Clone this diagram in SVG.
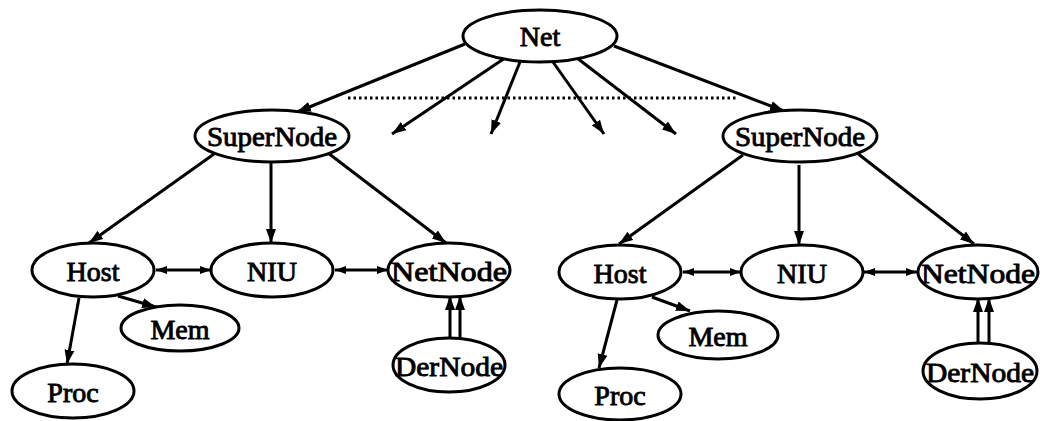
<svg xmlns="http://www.w3.org/2000/svg" width="1040" height="421" viewBox="0 0 1040 421">
<style>
.n ellipse{fill:#fff;stroke:#000;stroke-width:3}
.n text{font-family:'Liberation Serif','DejaVu Serif','Times New Roman',serif;font-size:28px;font-weight:normal;text-anchor:middle;fill:#000;stroke:#000;stroke-width:0.9}
.e line{stroke:#000;stroke-width:3;fill:none}
.dot{stroke:#000;stroke-width:2.5;stroke-dasharray:2.5 3;fill:none}
</style>
<defs>
<marker id="ah" markerUnits="userSpaceOnUse" markerWidth="15" markerHeight="11" refX="14" refY="5.5" orient="auto">
<path d="M0,0.5 L14,5.5 L0,10.5 z" fill="#000"/>
</marker>
<marker id="as" markerUnits="userSpaceOnUse" markerWidth="12" markerHeight="9" refX="11" refY="4.5" orient="auto-start-reverse">
<path d="M0,0.5 L11,4.5 L0,8.5 z" fill="#000"/>
</marker>
</defs>
<g class="e" id="connectors">
<line class="dot" x1="348" y1="98" x2="738" y2="98"/>
<line x1="465" y1="44" x2="297" y2="112" marker-end="url(#ah)"/>
<line x1="505" y1="58" x2="392" y2="134" marker-end="url(#ah)"/>
<line x1="520" y1="62" x2="491" y2="134" marker-end="url(#ah)"/>
<line x1="553" y1="62" x2="604" y2="134" marker-end="url(#ah)"/>
<line x1="577" y1="58" x2="676" y2="134" marker-end="url(#ah)"/>
<line x1="614" y1="46" x2="784" y2="111" marker-end="url(#ah)"/>
<line x1="214" y1="154" x2="89" y2="243" marker-end="url(#ah)"/>
<line x1="271" y1="163" x2="271" y2="243" marker-end="url(#ah)"/>
<line x1="328" y1="153" x2="446" y2="243" marker-end="url(#ah)"/>
<line x1="156" y1="270" x2="211" y2="270" marker-start="url(#as)" marker-end="url(#as)"/>
<line x1="335" y1="270" x2="388" y2="270" marker-start="url(#as)" marker-end="url(#as)"/>
<line x1="118" y1="296" x2="156" y2="307" marker-end="url(#ah)"/>
<line x1="79" y1="298" x2="67" y2="364" marker-end="url(#ah)"/>
<line x1="450" y1="338" x2="450" y2="296" marker-end="url(#ah)"/>
<line x1="460" y1="338" x2="460" y2="296" marker-end="url(#ah)"/>
<line x1="743" y1="155" x2="619" y2="244" marker-end="url(#ah)"/>
<line x1="799" y1="165" x2="799" y2="245" marker-end="url(#ah)"/>
<line x1="857" y1="153" x2="974" y2="244" marker-end="url(#ah)"/>
<line x1="683" y1="272" x2="741" y2="272" marker-start="url(#as)" marker-end="url(#as)"/>
<line x1="864" y1="272" x2="917" y2="272" marker-start="url(#as)" marker-end="url(#as)"/>
<line x1="652" y1="297" x2="690" y2="311" marker-end="url(#ah)"/>
<line x1="617" y1="300" x2="599" y2="368" marker-end="url(#ah)"/>
<line x1="978" y1="343" x2="978" y2="298" marker-end="url(#ah)"/>
<line x1="989" y1="343" x2="989" y2="298" marker-end="url(#ah)"/>
</g>
<g class="n" id="net"><ellipse cx="540" cy="36" rx="77" ry="26"/><text x="540" y="46">Net</text></g>
<g class="n" id="supernode1"><ellipse cx="272" cy="136" rx="77" ry="26"/><text x="272" y="146" textLength="130" lengthAdjust="spacingAndGlyphs">SuperNode</text></g>
<g class="n" id="host1"><ellipse cx="93" cy="270" rx="61" ry="27"/><text x="93" y="281">Host</text></g>
<g class="n" id="niu1"><ellipse cx="272" cy="270" rx="61" ry="27"/><text x="272" y="281">NIU</text></g>
<g class="n" id="netnode1"><ellipse cx="449" cy="270" rx="61" ry="27"/><text x="449" y="281" textLength="116" lengthAdjust="spacingAndGlyphs">NetNode</text></g>
<g class="n" id="mem1"><ellipse cx="180" cy="328" rx="59" ry="23"/><text x="180" y="339">Mem</text></g>
<g class="n" id="proc1"><ellipse cx="73" cy="391" rx="61" ry="27"/><text x="73" y="402">Proc</text></g>
<g class="n" id="dernode1"><ellipse cx="449" cy="365" rx="56" ry="27"/><text x="449" y="376" textLength="108" lengthAdjust="spacingAndGlyphs">DerNode</text></g>
<g class="n" id="supernode2"><ellipse cx="800" cy="136" rx="77" ry="26"/><text x="800" y="146" textLength="130" lengthAdjust="spacingAndGlyphs">SuperNode</text></g>
<g class="n" id="host2"><ellipse cx="620" cy="272" rx="61" ry="27"/><text x="620" y="283">Host</text></g>
<g class="n" id="niu2"><ellipse cx="802" cy="272" rx="61" ry="27"/><text x="802" y="283">NIU</text></g>
<g class="n" id="netnode2"><ellipse cx="978" cy="272" rx="60" ry="27"/><text x="978" y="283" textLength="114" lengthAdjust="spacingAndGlyphs">NetNode</text></g>
<g class="n" id="mem2"><ellipse cx="718" cy="335" rx="60" ry="24"/><text x="718" y="346">Mem</text></g>
<g class="n" id="proc2"><ellipse cx="620" cy="394" rx="61" ry="26"/><text x="620" y="405">Proc</text></g>
<g class="n" id="dernode2"><ellipse cx="980" cy="371" rx="57" ry="28"/><text x="980" y="382" textLength="108" lengthAdjust="spacingAndGlyphs">DerNode</text></g>
</svg>
